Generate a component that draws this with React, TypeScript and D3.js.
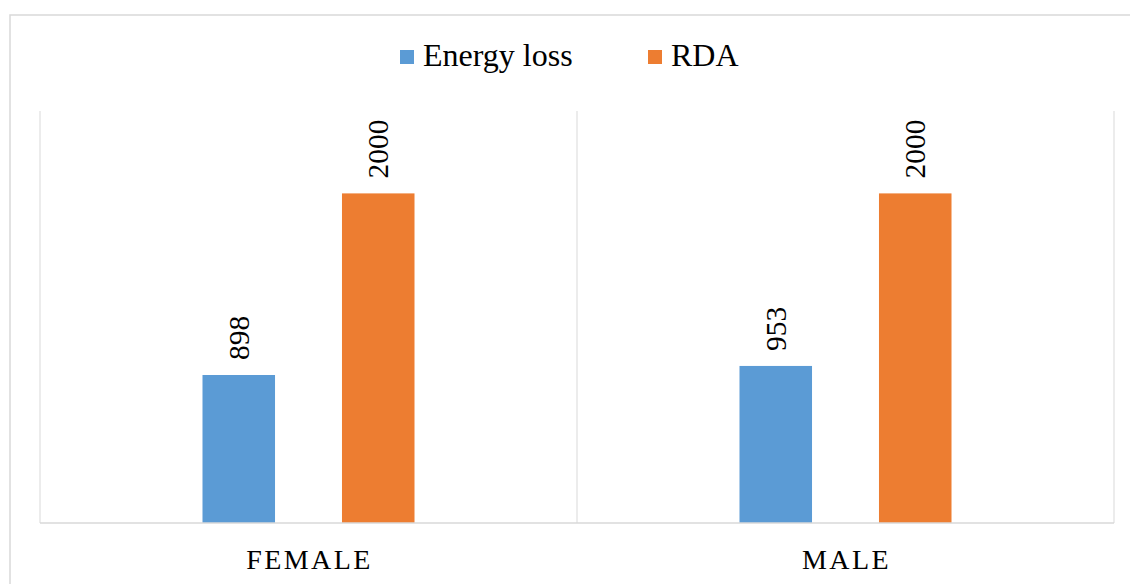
import React from "react";
import * as d3 from "d3";

const categories = ["FEMALE", "MALE"];
const seriesNames = ["Energy loss", "RDA"];
const energyLoss = [898, 953];
const rda = [2000, 2000];
const seriesColors = ["#5b9bd5", "#ed7d31"];

export default function App() {
  const W = 1130, H = 584;
  const left = 40, right = 1114, top = 111, bottom = 523;
  const x0 = d3.scaleBand().domain(categories).range([left, right]).paddingInner(0).paddingOuter(0);
  const x1 = d3.scaleBand().domain(seriesNames).range([0, x0.bandwidth()]).paddingInner(0.48).paddingOuter(1.165);
  const y = d3.scaleLinear().domain([0, 2500]).range([bottom, top]);
  const series = [energyLoss, rda];
  const font = '"Liberation Serif", "Times New Roman", serif';
  const grid = "#d9d9d9";
  const ts = (size: number, extra: any = {}) => ({ fontFamily: font, fontSize: size + "px", ...extra });
  return (
    <svg width={W} height={H} style={{ position: "absolute", left: 0, top: 0, background: "#fff" }}>
      <rect x={10} y={15} width={W} height={H} fill="none" stroke={grid} strokeWidth={1.5} />
      <line x1={left} x2={left} y1={top} y2={bottom} stroke={grid} />
      <line x1={right} x2={right} y1={top} y2={bottom} stroke={grid} />
      {categories.slice(1).map((c) => (
        <line key={c} x1={x0(c)!} x2={x0(c)!} y1={top} y2={bottom} stroke={grid} />
      ))}
      {categories.map((c, ci) =>
        seriesNames.map((s, si) => {
          const v = series[si][ci];
          const bx = x0(c)! + x1(s)!;
          const bw = x1.bandwidth();
          const by = y(v);
          return (
            <g key={c + s}>
              <rect x={bx} y={by} width={bw} height={bottom - by} fill={seriesColors[si]} />
              <text
                transform={`translate(${bx + bw / 2 + 10},${by - 15}) rotate(-90)`}
                style={ts(29.5)}
                fill="#000"
              >
                {v}
              </text>
            </g>
          );
        })
      )}
      <line x1={left} x2={right} y1={bottom} y2={bottom} stroke={grid} strokeWidth={1.5} />
      {categories.map((c) => (
        <text key={c} x={x0(c)! + x0.bandwidth() / 2 + 1} y={569} textAnchor="middle" style={ts(28, { letterSpacing: "2.4px" })} fill="#000">
          {c}
        </text>
      ))}
      <rect x={400} y={50} width={14} height={14} fill={seriesColors[0]} />
      <text x={423} y={66} style={ts(32)} fill="#000">{seriesNames[0]}</text>
      <rect x={648} y={50} width={14} height={14} fill={seriesColors[1]} />
      <text x={671} y={66} style={ts(32)} fill="#000">{seriesNames[1]}</text>
    </svg>
  );
}
